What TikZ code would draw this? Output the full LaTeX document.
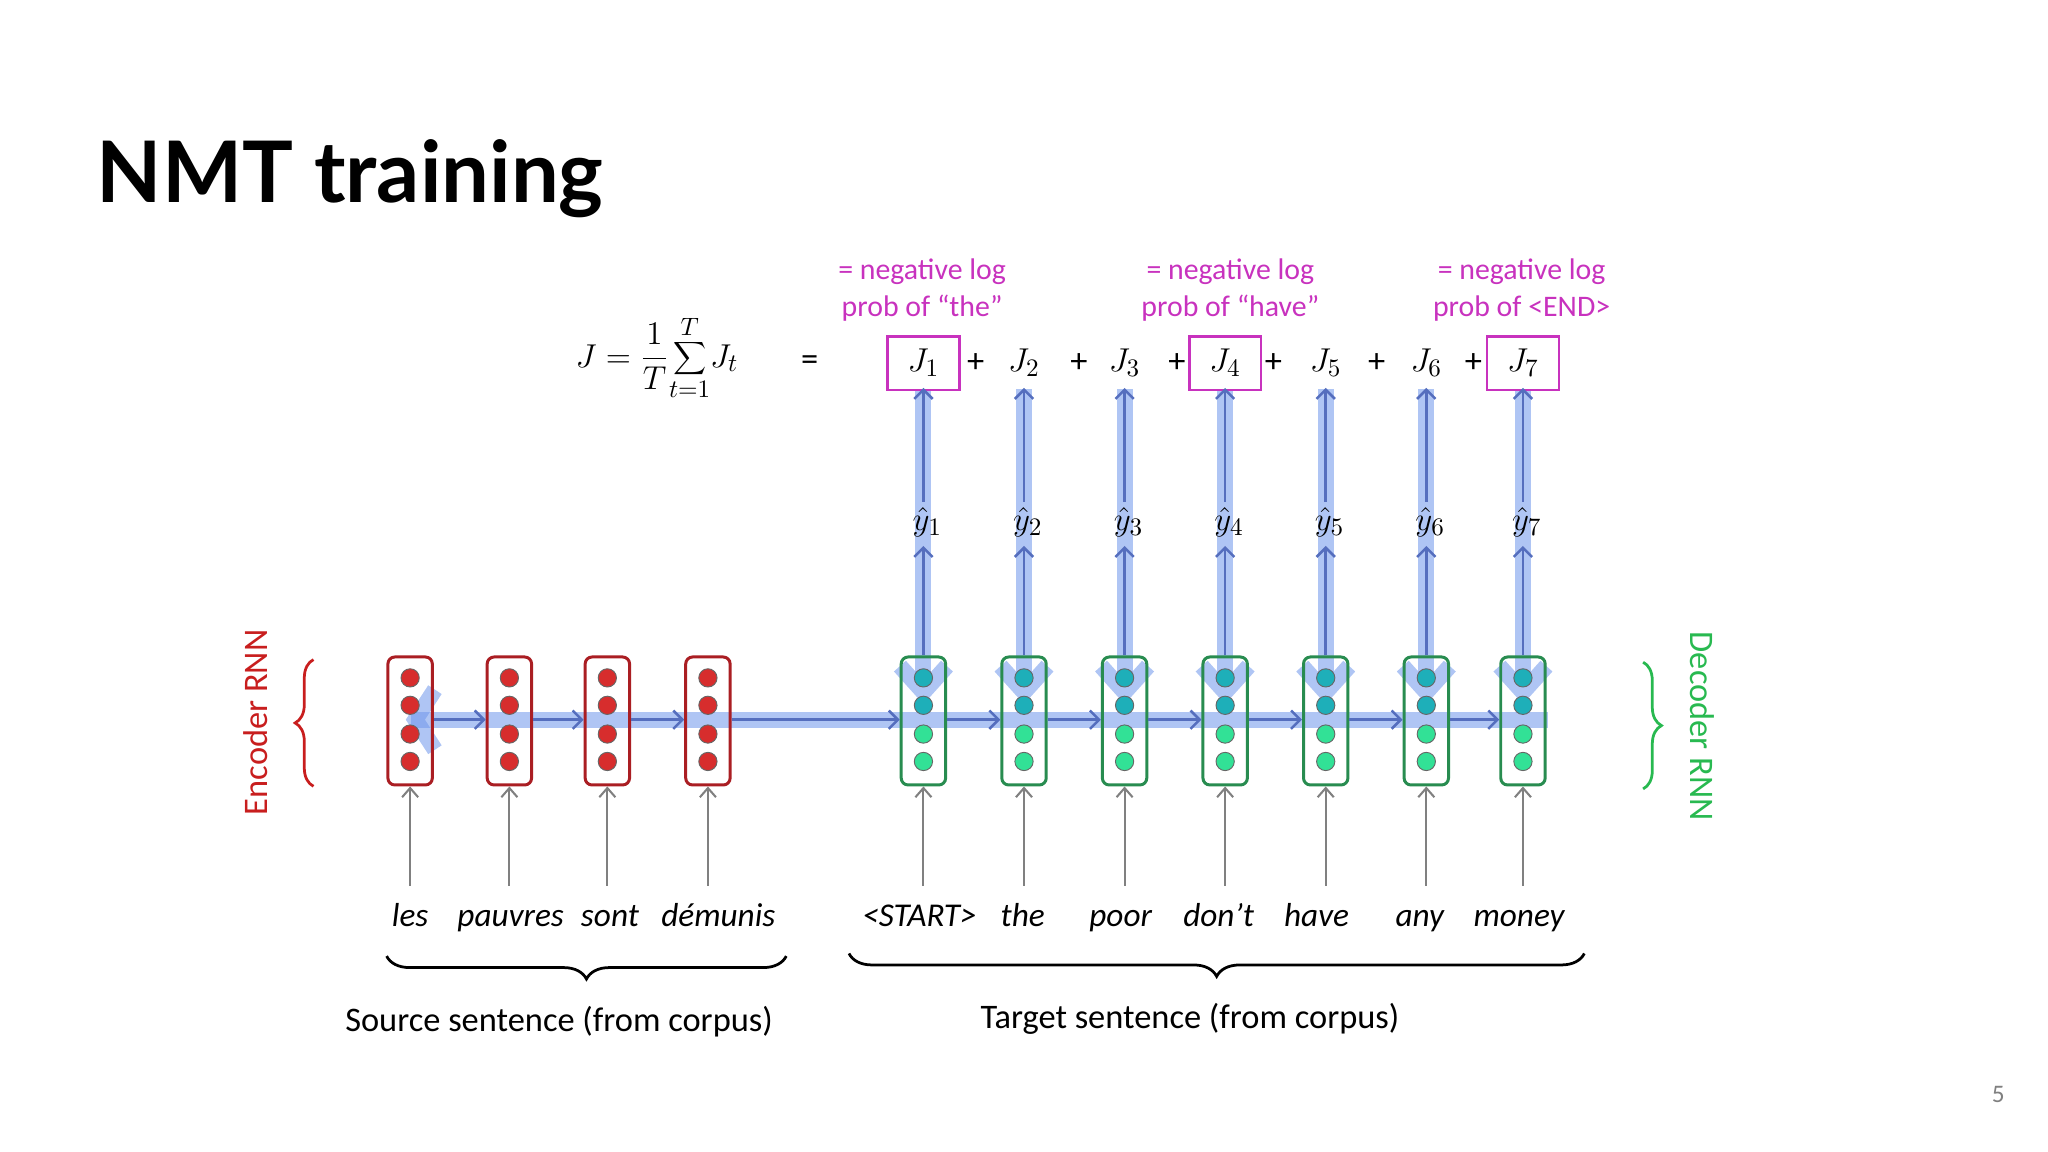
\documentclass[tikz,border=0pt]{standalone}
\usepackage{fontspec}
\setmainfont{Carlito}
\newfontfamily\titlefont{Lato}
\usetikzlibrary{arrows.meta,decorations.pathreplacing}
\definecolor{encred}{RGB}{215,45,45}
\definecolor{encborder}{RGB}{170,30,35}
\definecolor{decborder}{RGB}{40,140,80}
\definecolor{tealc}{RGB}{30,175,185}
\definecolor{mint}{RGB}{50,225,150}
\definecolor{bandc}{RGB}{110,150,235}
\definecolor{thinblue}{RGB}{85,110,190}
\definecolor{mag}{RGB}{200,50,190}
\definecolor{encname}{RGB}{200,30,30}
\definecolor{decname}{RGB}{40,185,80}
\tikzset{
 cell/.style={draw=#1,line width=1.3pt,rounded corners=3pt,minimum width=34*0.02cm,minimum height=98*0.02cm,inner sep=0pt},
 dot/.style={circle,fill=#1,draw=black!60,line width=0.4pt,minimum size=14*0.02cm,inner sep=0pt},
 bandline/.style={draw=bandc,opacity=0.55,line width=7pt},
 thinarrow/.style={draw=thinblue,line width=1.1pt,-{Straight Barb[length=4pt,width=8pt]}},
 inarrow/.style={draw=gray,line width=0.9pt,-{Straight Barb[length=4pt,width=7pt]}},
 word/.style={font=\fontsize{14.5}{18}\selectfont\itshape,anchor=base},
 jlab/.style={font=\fontsize{15}{18}\selectfont,inner sep=1pt},
 jbox/.style={draw=mag,line width=1.2pt,minimum width=55*0.02cm,minimum height=41*0.02cm,inner sep=0pt},
 neg/.style={mag,font=\fontsize{13}{16}\selectfont,align=center},
 brace/.style={decorate,decoration={brace,amplitude=10pt},line width=1.2pt}
}
\begin{document}
\begin{tikzpicture}[x=0.02cm,y=-0.02cm]
\useasboundingbox (0,0) rectangle (1568,882);
\node[anchor=base west,font=\titlefont\bfseries\fontsize{37}{42}\selectfont] (title) at (68,155) {NMT training};
\node[gray,font=\fontsize{11}{13}\selectfont] (pg) at (1530,838) {5};
% formula
\node[font=\fontsize{15}{18}\selectfont] (formula) at (503,274) {$\displaystyle J=\frac{1}{T}\!\sum_{t=1}^{T}\!J_t$};
\node[font=\fontsize{15}{18}\selectfont] (eq) at (620,278) {=};
% bands
\draw[bandline] (315,551) -- (1185,551);
\draw[bandline] (333,528) -- (318,551) -- (333,574);
\foreach \x in {707,784,861,938,1015,1092,1166} {
  \draw[bandline] (\x,298) -- (\x,522);
  \draw[bandline] (\x-18,510) -- (\x,530) -- (\x+18,510);
}
% encoder cells
\foreach \x [count=\i] in {314,390,465,542} {
  \node[cell=encborder] (e\i) at (\x,552) {};
  \foreach \yy [count=\k] in {519,540,562,583} \node[dot=encred] (e\i d\k) at (\x,\yy) {};
}
% decoder cells
\foreach \x [count=\i] in {707,784,861,938,1015,1092,1166} {
  \node[cell=decborder] (d\i) at (\x,552) {};
  \node[dot=tealc] (d\i a) at (\x,519) {};
  \node[dot=tealc] (d\i b) at (\x,540) {};
  \node[dot=mint] (d\i c) at (\x,562) {};
  \node[dot=mint] (d\i d) at (\x,583) {};
}
% horizontal thin arrows
\foreach \a/\b in {e1/e2,e2/e3,e3/e4,e4/d1,d1/d2,d2/d3,d3/d4,d4/d5,d5/d6,d6/d7}
  \draw[thinarrow] (\a.east|-0,551) -- (\b.west|-0,551);
% J row
\foreach \x/\i in {707/1,784/2,861/3,938/4,1015/5,1092/6,1166/7}
  \node[jlab] (J\i) at (\x,278) {$J_{\i}$};
\foreach \i in {1,4,7} \node[jbox] (JB\i) at (J\i) {};
\foreach \x/\i in {747/1,826/2,901/3,975/4,1054/5,1128/6}
  \node[jlab] (plus\i) at (\x,278) {+};
% yhat
\foreach \x/\i in {707/1,784/2,861/3,938/4,1015/5,1092/6,1166/7} {
  \node[jlab] (y\i) at (\x+3,400) {$\hat{y}_{\i}$};
  \draw[thinarrow] (d\i.north) -- (\x,418);
  \draw[thinarrow] (\x,384) -- (\x,297);
}
% magenta notes
\node[neg] (n1) at (706,222) {= negative log\\prob of “the”};
\node[neg] (n4) at (942,222) {= negative log\\prob of “have”};
\node[neg] (n7) at (1165,222) {= negative log\\prob of <END>};
% words
\foreach \x/\w/\c in {314/les/e1,391/pauvres/e2,467/sont/e3,550/démunis/e4,704/<START>/d1,783/the/d2,858/poor/d3,933/don’t/d4,1008/have/d5,1087/any/d6,1163/money/d7} {
  \node[word] (w\c) at (\x,709) {\w};
  \draw[inarrow] (\c.south|-0,678) -- (\c.south);
}
% braces
\draw[brace] (602,732) -- (296,732);
\draw[brace] (1213,730) -- (650,730);
\node[font=\fontsize{15}{18}\selectfont] (src) at (428,782) {Source sentence (from corpus)};
\node[font=\fontsize{15}{18}\selectfont] (tgt) at (911,780) {Target sentence (from corpus)};
% encoder/decoder labels
\draw[brace,encname,decoration={brace,amplitude=8pt}] (240,602) -- (240,505);
\node[encname,rotate=90,font=\fontsize{15}{18}\selectfont] (encl) at (196,553) {Encoder RNN};
\draw[brace,decname,decoration={brace,amplitude=8pt}] (1258,507) -- (1258,604);
\node[decname,rotate=-90,font=\fontsize{15}{18}\selectfont] (decl) at (1303,556) {Decoder RNN};
\end{tikzpicture}
\end{document}
